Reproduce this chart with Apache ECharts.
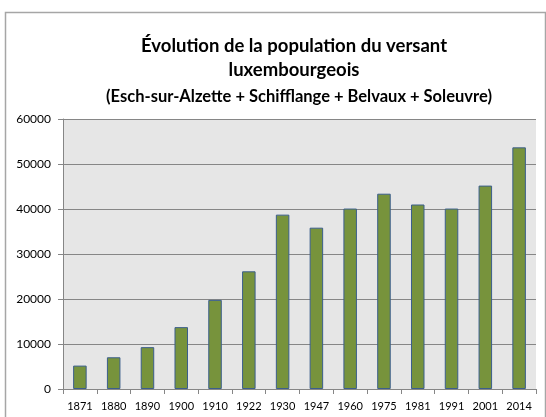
<!DOCTYPE html>
<html>
<head>
<meta charset="utf-8">
<script src="https://cdn.jsdelivr.net/npm/echarts@6/dist/echarts.min.js"></script>
<style>
  html, body { margin: 0; padding: 0; background: #fff; }
  #chart { width: 546px; height: 417px; }
</style>
</head>
<body>
<div id="chart"></div>
<script>
// Census years
const years = ['1871', '1880', '1890', '1900', '1910', '1922', '1930', '1947', '1960', '1975', '1981', '1991', '2001', '2014'];
// Combined population: Esch-sur-Alzette + Schifflange + Belvaux + Soleuvre
const population = [5200, 7050, 9300, 13750, 19800, 26150, 38750, 35850, 40100, 43400, 41000, 40100, 45200, 53700];
// Value axis ticks
const yTicks = [0, 10000, 20000, 30000, 40000, 50000, 60000];

const titleLines = ['Évolution de la population du versant', 'luxembourgeois'];
const subtitle = '(Esch-sur-Alzette + Schifflange + Belvaux + Soleuvre)';

const FONT = 'Lato, "Open Sans", sans-serif';

const chart = echarts.init(document.getElementById('chart'), null, { renderer: 'canvas' });

chart.setOption({
  backgroundColor: '#ffffff',
  animation: false,
  graphic: [
    {
      type: 'rect',
      shape: { x: 5.5, y: 12.5, width: 540, height: 420 },
      style: { fill: 'none', stroke: '#a6a6a6', lineWidth: 1.5 },
      silent: true
    }
  ],
  title: [
    {
      text: titleLines.join('\n'),
      left: 289,
      top: 29,
      textAlign: 'center',
      textStyle: { fontFamily: FONT, fontWeight: 'bold', fontSize: 18.5, color: '#000', lineHeight: 24 }
    },
    {
      text: subtitle,
      left: 294,
      top: 83,
      textAlign: 'center',
      textStyle: { fontFamily: FONT, fontWeight: 'bold', fontSize: 16.5, color: '#000' }
    }
  ],
  grid: {
    left: 63,
    top: 119,
    right: 10,
    bottom: 28,
    show: true,
    backgroundColor: '#e6e6e6',
    borderWidth: 0
  },
  xAxis: {
    type: 'category',
    data: years,
    axisLine: { show: true, lineStyle: { color: '#868686', width: 1 } },
    axisTick: { show: true, alignWithLabel: false, length: 5, lineStyle: { color: '#868686' } },
    axisLabel: { fontFamily: FONT, fontSize: 11, color: '#000', margin: 12 },
    splitLine: { show: false }
  },
  yAxis: {
    type: 'value',
    min: yTicks[0],
    max: yTicks[yTicks.length - 1],
    interval: yTicks[1] - yTicks[0],
    axisLine: { show: true, lineStyle: { color: '#868686', width: 1 } },
    axisTick: { show: true, length: 5, lineStyle: { color: '#868686' } },
    axisLabel: { fontFamily: FONT, fontSize: 12, color: '#000', margin: 12, formatter: (v) => String(v) },
    splitLine: { show: true, lineStyle: { color: '#868686', width: 1 } }
  },
  series: [
    {
      type: 'bar',
      data: population,
      barWidth: '40%',
      itemStyle: { color: '#77933c', borderColor: '#3b5e8c', borderWidth: 1 }
    }
  ]
});
</script>
</body>
</html>
